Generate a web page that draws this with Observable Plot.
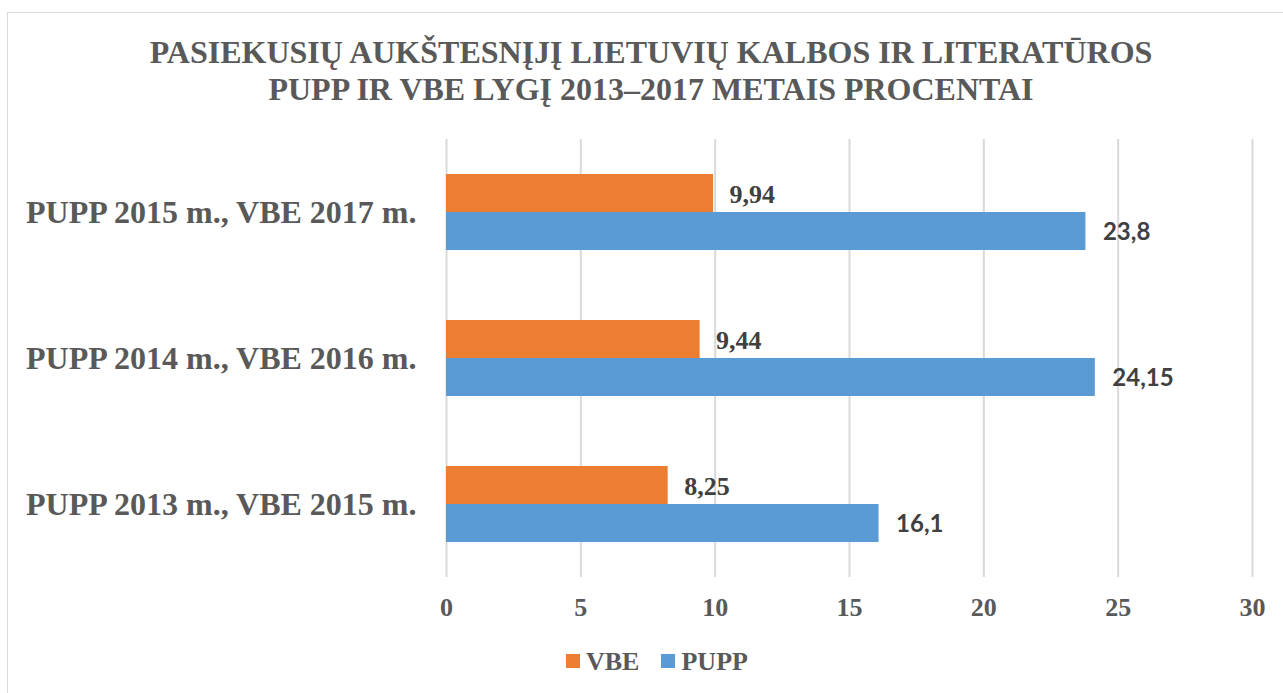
<!DOCTYPE html>
<html>
<head>
<meta charset="utf-8">
<script src="https://cdn.jsdelivr.net/npm/d3@7"></script>
<script src="https://cdn.jsdelivr.net/npm/@observablehq/plot@0.6"></script>
<style>
  html, body { margin: 0; padding: 0; background: #fff; }
  #wrap { position: relative; width: 1283px; height: 693px; overflow: hidden; background: #fff; }
  #frame { position: absolute; left: 7px; top: 12px; width: 1320px; height: 720px; border: 1px solid #d9d9d9; box-sizing: border-box; }
  #title { position: absolute; left: 0; top: 34px; width: 1302px; text-align: center;
           font-family: "Liberation Serif", "Times New Roman", serif; font-weight: bold;
           font-size: 32px; line-height: 37px; color: #595959; }
  #chart { position: absolute; left: 0; top: 0; }
  #legend { position: absolute; left: 566px; top: 649px; white-space: nowrap;
            font-family: "Liberation Serif", "Times New Roman", serif; font-weight: bold;
            font-size: 26px; line-height: 26px; color: #595959; }
  #legend .sw { display: inline-block; width: 14px; height: 14px; position: relative; top: -2px; vertical-align: baseline; }
  #legend .lab { display: inline-block; margin-left: 6px; margin-right: 22px; }
</style>
</head>
<body>
<div id="wrap">
  <div id="frame"></div>
  <div id="chart"></div>
  <div id="title">PASIEKUSIŲ AUKŠTESNĮJĮ LIETUVIŲ KALBOS IR LITERATŪROS<br>PUPP IR VBE LYGĮ 2013–2017 METAIS PROCENTAI</div>
  <div id="legend"></div>
</div>
<script>
// ---- data ----
const categories = ["PUPP 2015 m., VBE 2017 m.", "PUPP 2014 m., VBE 2016 m.", "PUPP 2013 m., VBE 2015 m."];
const series = ["VBE", "PUPP"];
const vbeValues = [9.94, 9.44, 8.25];
const puppValues = [23.8, 24.15, 16.1];
const xTicks = [0, 5, 10, 15, 20, 25, 30];
const seriesColors = ["#ED7D31", "#5B9BD5"];

const rows = [];
categories.forEach((c, i) => {
  rows.push({cat: c, series: "VBE", value: vbeValues[i]});
  rows.push({cat: c, series: "PUPP", value: puppValues[i]});
});
const fmt = v => String(v).replace(".", ",");
const serif = "Liberation Serif";

const chart = Plot.plot({
  width: 1283,
  height: 693,
  marginTop: 139,
  marginBottom: 116,
  marginLeft: 446,
  marginRight: 31,
  style: {fontFamily: serif, background: "transparent", overflow: "visible"},
  x: {domain: [0, 30], axis: null},
  y: {domain: series, paddingInner: 0, paddingOuter: 0.921, axis: null},
  fy: {domain: categories, padding: 0, axis: null},
  color: {domain: series, range: seriesColors},
  marks: [
    Plot.ruleX(xTicks, {x: d => d, stroke: "#d9d9d9", strokeWidth: 2}),
    Plot.barX(rows, {x: "value", y: "series", fy: "cat", fill: "series"}),
    Plot.text(rows.filter(d => d.series === "VBE"), {
      x: "value", y: "series", fy: "cat", text: d => fmt(d.value),
      textAnchor: "start", dx: 16, dy: 1,
      fontFamily: serif, fontSize: 26, fontWeight: "bold", fill: "#404040"
    }),
    Plot.text(rows.filter(d => d.series === "PUPP"), {
      x: "value", y: "series", fy: "cat", text: d => fmt(d.value),
      textAnchor: "start", dx: 17, dy: 1,
      fontFamily: "Lato", fontSize: 24, fontWeight: "bold", fill: "#404040"
    }),
    Plot.text(categories, {
      fy: d => d, frameAnchor: "left", text: d => d, textAnchor: "end", dx: -30,
      fontFamily: serif, fontSize: 32, fontWeight: "bold", fill: "#595959"
    }),
    Plot.axisX({ticks: xTicks, tickSize: 0, tickPadding: 20, tickFormat: d => String(d),
      fontSize: 26, fontWeight: "bold", fontFamily: serif, color: "#595959", label: null})
  ]
});
document.getElementById("chart").appendChild(chart);

// legend
const legend = document.getElementById("legend");
series.forEach((s, i) => {
  const sw = document.createElement("span");
  sw.className = "sw";
  sw.style.background = seriesColors[i];
  const lab = document.createElement("span");
  lab.className = "lab";
  lab.textContent = s;
  legend.appendChild(sw);
  legend.appendChild(lab);
});
</script>
</body>
</html>
